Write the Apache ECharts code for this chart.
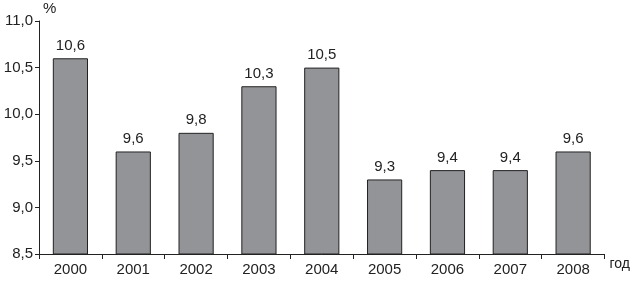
<!DOCTYPE html>
<html>
<head>
<meta charset="utf-8">
<script src="https://cdn.jsdelivr.net/npm/echarts@6/dist/echarts.min.js"></script>
<style>
  html, body { margin: 0; padding: 0; background: #fff; }
  #main { width: 633px; height: 281px; }
</style>
</head>
<body>
<div id="main"></div>
<script>
// годы и доля, %
const years = ['2000', '2001', '2002', '2003', '2004', '2005', '2006', '2007', '2008'];
const values = [10.6, 9.6, 9.8, 10.3, 10.5, 9.3, 9.4, 9.4, 9.6];

const fmt = v => v.toFixed(1).replace('.', ',');

const myChart = echarts.init(document.getElementById('main'));
const option = {
    animation: false,
    textStyle: { fontFamily: 'Arial, Liberation Sans, sans-serif' },
    grid: { left: 39, right: 17, top: 21, bottom: 27 },
    xAxis: {
        type: 'category',
        data: years,
        name: 'год',
        nameLocation: 'end',
        nameGap: 5,
        nameTextStyle: { color: '#222', fontSize: 14, verticalAlign: 'top', padding: [3, 0, 0, 0] },
        axisLine: { lineStyle: { color: '#222', width: 1 } },
        axisTick: { show: true, length: 5, lineStyle: { color: '#222' } },
        axisLabel: { color: '#222', fontSize: 15, margin: 8 }
    },
    yAxis: {
        type: 'value',
        min: 8.5,
        max: 11,
        interval: 0.5,
        name: '%',
        nameLocation: 'end',
        nameGap: 5,
        nameTextStyle: { color: '#222', fontSize: 15, align: 'left', padding: [0, 0, 0, 4] },
        splitLine: { show: false },
        axisLine: { show: true, lineStyle: { color: '#222', width: 1 } },
        axisTick: { show: true, length: 4, lineStyle: { color: '#222' } },
        axisLabel: { color: '#222', fontSize: 15, margin: 6, formatter: v => fmt(v) }
    },
    series: [{
        type: 'bar',
        data: values,
        barWidth: '56%',
        itemStyle: { color: '#939497', borderColor: '#222', borderWidth: 1 },
        label: {
            show: true,
            position: 'top',
            distance: 5,
            color: '#222',
            fontSize: 15,
            formatter: p => fmt(p.value)
        }
    }]
};
myChart.setOption(option);
</script>
</body>
</html>
